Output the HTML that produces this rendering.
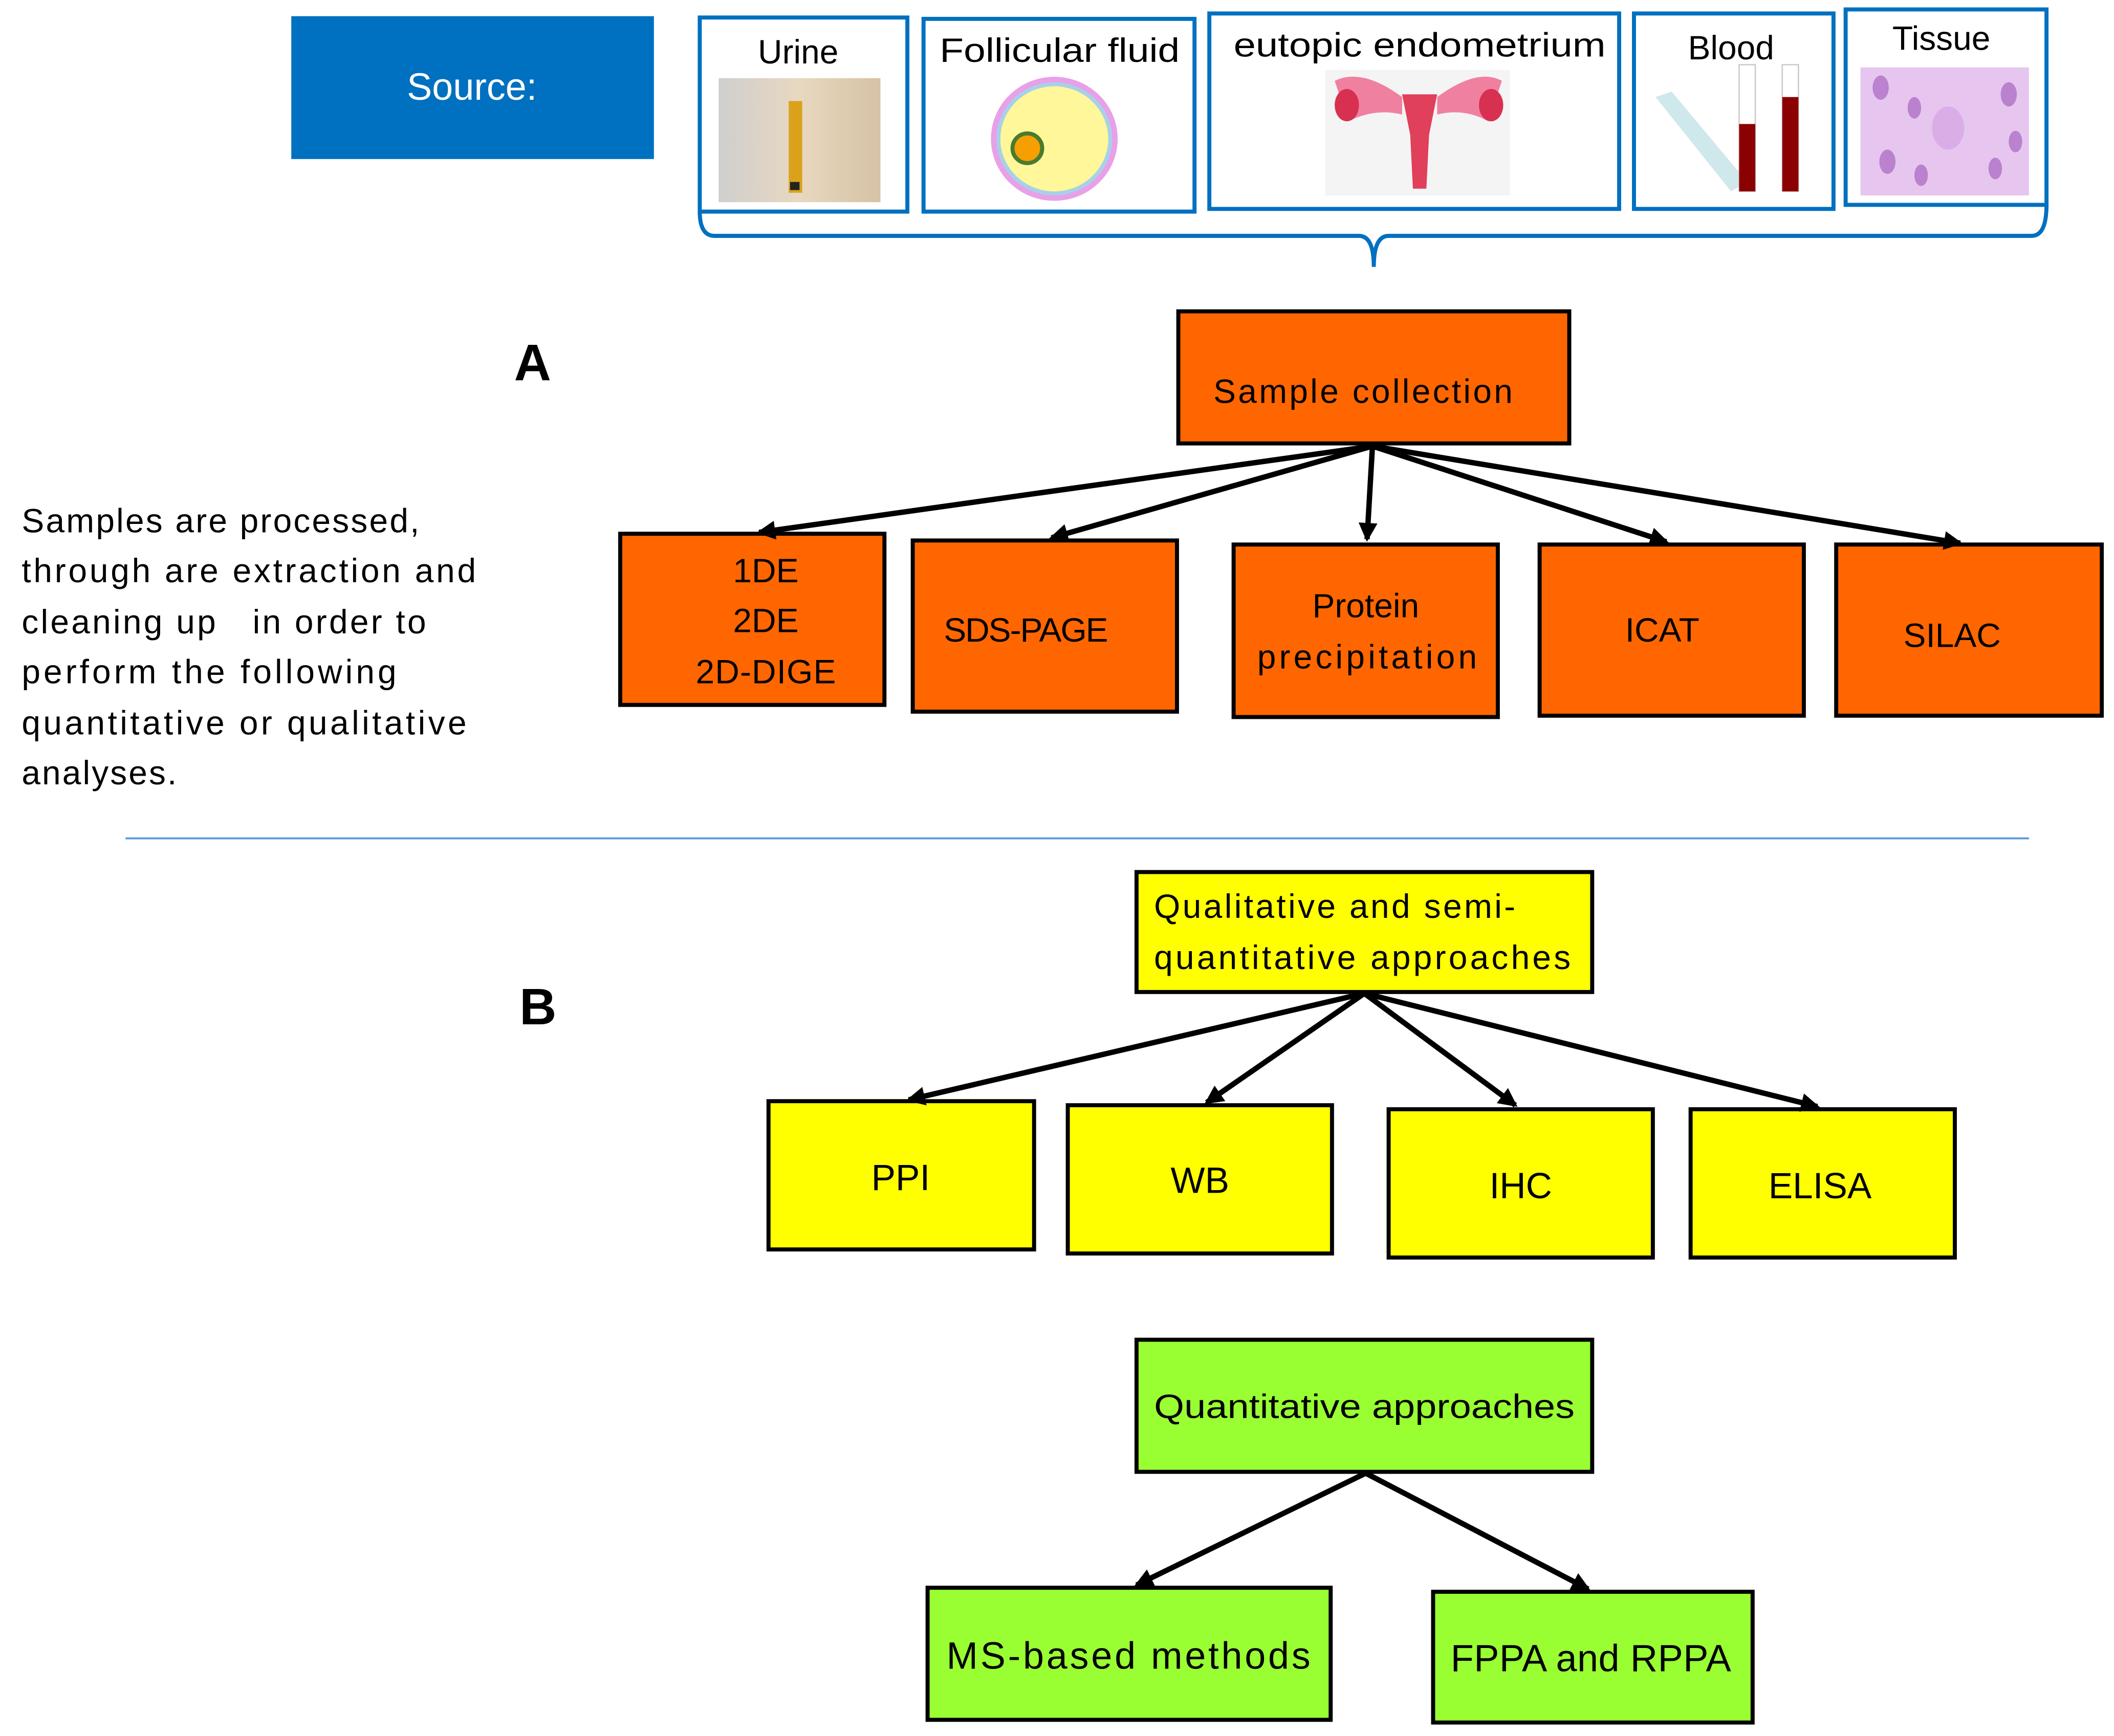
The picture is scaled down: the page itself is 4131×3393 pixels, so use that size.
<!DOCTYPE html>
<html><head><meta charset="utf-8"><style>
html,body{margin:0;padding:0;background:#fff;}
svg{display:block;}
text{font-family:"Liberation Sans",sans-serif;fill:#000;}
</style></head><body>
<svg width="4131" height="3393" viewBox="0 0 1568 1288" xmlns="http://www.w3.org/2000/svg">
<defs>
<marker id="ah" markerWidth="3.5" markerHeight="3.5" refX="3" refY="1.75" orient="auto" markerUnits="strokeWidth">
<path d="M0,0 L3.5,1.75 L0,3.5 z" fill="#000"/></marker>
<linearGradient id="ug" x1="0" x2="1"><stop offset="0" stop-color="#cfcfcf"/><stop offset="0.5" stop-color="#e8d8c0"/><stop offset="1" stop-color="#d6c2a5"/></linearGradient>
</defs>
<rect x="0" y="0" width="1568" height="1288" fill="#fff"/>
<rect x="216" y="12" width="269" height="106" fill="#0070C0"/>
<text x="350" y="74" font-size="28" text-anchor="middle" style="fill:#fff">Source:</text>
<g fill="#fff" stroke="#0070C0" stroke-width="3">
<rect x="519" y="13" width="154" height="144"/>
<rect x="685" y="14" width="201" height="143"/>
<rect x="897" y="10" width="304" height="145"/>
<rect x="1212" y="10" width="148" height="145"/>
<rect x="1369" y="7" width="149" height="145"/>
</g>
<g font-size="25" text-anchor="middle">
<text x="592" y="47">Urine</text>
<text x="786" y="46" textLength="178" lengthAdjust="spacingAndGlyphs">Follicular fluid</text>
<text x="1053" y="42" textLength="276" lengthAdjust="spacingAndGlyphs">eutopic endometrium</text>
<text x="1284" y="44">Blood</text>
<text x="1440" y="37">Tissue</text>
</g>
<rect x="533" y="58" width="120" height="92" fill="url(#ug)"/>
<rect x="585" y="75" width="10" height="68" fill="#d9a21a"/>
<rect x="586" y="135" width="7" height="6" fill="#222"/>
<ellipse cx="782" cy="103" rx="47" ry="46" fill="#e8a0e8"/>
<ellipse cx="782" cy="103" rx="43" ry="42" fill="#a8d0e8"/>
<ellipse cx="782" cy="103" rx="40" ry="39" fill="#fff799"/>
<circle cx="762" cy="110" r="11" fill="#f5a000" stroke="#4a7a30" stroke-width="3"/>
<rect x="983" y="52" width="137" height="93" fill="#f4f4f4"/>
<path d="M1040,70 L1066,70 L1060,100 L1058,140 L1048,140 L1046,100 Z" fill="#e0405a"/>
<path d="M1040,72 Q1010,50 990,60 L1000,90 Q1020,80 1040,85Z" fill="#f080a0"/>
<path d="M1066,72 Q1096,50 1114,60 L1104,90 Q1086,80 1066,85Z" fill="#f080a0"/>
<ellipse cx="999" cy="78" rx="9" ry="12" fill="#d83050"/>
<ellipse cx="1106" cy="78" rx="9" ry="12" fill="#d83050"/>
<path d="M1228,72 L1240,68 L1296,135 L1284,142 Z" fill="#cfe8ec"/>
<rect x="1290" y="48" width="12" height="94" fill="#fff" stroke="#ccc"/>
<rect x="1290" y="92" width="12" height="50" fill="#8b0000"/>
<rect x="1322" y="48" width="12" height="94" fill="#fff" stroke="#ccc"/>
<rect x="1322" y="72" width="12" height="70" fill="#8b0000"/>
<rect x="1380" y="50" width="125" height="95" fill="#e6c6ee"/>
<g fill="#b070c8" opacity="0.8">
<ellipse cx="1395" cy="65" rx="6" ry="9"/><ellipse cx="1420" cy="80" rx="5" ry="8"/><ellipse cx="1490" cy="70" rx="6" ry="9"/>
<ellipse cx="1400" cy="120" rx="6" ry="9"/><ellipse cx="1480" cy="125" rx="5" ry="8"/><ellipse cx="1445" cy="95" rx="12" ry="16" fill="#d9a8e6"/>
<ellipse cx="1425" cy="130" rx="5" ry="8"/><ellipse cx="1495" cy="105" rx="5" ry="8"/></g>
<path d="M519,157 Q519,175 530,175 L1008,175 Q1019,175 1019,198 Q1019,175 1030,175 L1507,175 Q1518,175 1518,152" fill="none" stroke="#0070C0" stroke-width="3"/>
<text x="395" y="282" font-size="38" font-weight="bold" text-anchor="middle">A</text>
<text x="399" y="760" font-size="38" font-weight="bold" text-anchor="middle">B</text>
<g font-size="25" lengthAdjust="spacingAndGlyphs">
<text x="16" y="395" textLength="295">Samples are processed,</text>
<text x="16" y="432" textLength="337">through are extraction and</text>
<text x="16" y="470" textLength="300">cleaning up &#160;&#160;in order to</text>
<text x="16" y="507" textLength="278">perform the following</text>
<text x="16" y="545" textLength="330">quantitative or qualitative</text>
<text x="16" y="582" textLength="115">analyses.</text>
</g>
<line x1="93" y1="622" x2="1505" y2="622" stroke="#5B9BD5" stroke-width="1.5"/>
<g fill="#FF6600" stroke="#000" stroke-width="3">
<rect x="874" y="231" width="290" height="98"/>
<rect x="460" y="396" width="196" height="127"/>
<rect x="677" y="401" width="196" height="127"/>
<rect x="915" y="404" width="196" height="128"/>
<rect x="1142" y="404" width="196" height="127"/>
<rect x="1362" y="404" width="197" height="127"/>
</g>
<g font-size="25" text-anchor="middle" lengthAdjust="spacingAndGlyphs">
<text x="1011" y="299" textLength="222">Sample collection</text>
<text x="568" y="432">1DE</text><text x="568" y="469">2DE</text><text x="568" y="507" textLength="104">2D-DIGE</text>
<text x="761" y="476" textLength="122">SDS-PAGE</text>
<text x="1013" y="458">Protein</text><text x="1014" y="496" textLength="163">precipitation</text>
<text x="1233" y="476">ICAT</text>
<text x="1448" y="480">SILAC</text>
</g>
<g stroke="#000" stroke-width="4" marker-end="url(#ah)">
<line x1="1018" y1="331" x2="563" y2="395"/>
<line x1="1018" y1="331" x2="780" y2="399"/>
<line x1="1018" y1="331" x2="1014" y2="400"/>
<line x1="1018" y1="331" x2="1236" y2="402"/>
<line x1="1018" y1="331" x2="1454" y2="403"/>
</g>
<g fill="#FFFF00" stroke="#000" stroke-width="3">
<rect x="843" y="647" width="338" height="89"/>
<rect x="570" y="817" width="197" height="110"/>
<rect x="792" y="820" width="196" height="110"/>
<rect x="1030" y="823" width="196" height="110"/>
<rect x="1254" y="823" width="196" height="110"/>
</g>
<g font-size="25" lengthAdjust="spacingAndGlyphs">
<text x="856" y="681" textLength="268">Qualitative and semi-</text>
<text x="856" y="719" textLength="309">quantitative approaches</text>
</g>
<g font-size="27" text-anchor="middle">
<text x="668" y="883">PPI</text><text x="890" y="885">WB</text><text x="1128" y="889">IHC</text><text x="1350" y="889">ELISA</text>
</g>
<g stroke="#000" stroke-width="4" marker-end="url(#ah)">
<line x1="1012" y1="737" x2="674" y2="816"/>
<line x1="1012" y1="737" x2="895" y2="818"/>
<line x1="1012" y1="737" x2="1124" y2="820"/>
<line x1="1012" y1="737" x2="1348" y2="821"/>
</g>
<g fill="#99FF33" stroke="#000" stroke-width="3">
<rect x="843" y="994" width="338" height="98"/>
<rect x="688" y="1178" width="299" height="98"/>
<rect x="1063" y="1181" width="237" height="97"/>
</g>
<text x="1012" y="1052" font-size="25" text-anchor="middle" textLength="312" lengthAdjust="spacingAndGlyphs">Quantitative approaches</text>
<g font-size="28" text-anchor="middle" lengthAdjust="spacingAndGlyphs">
<text x="837" y="1238" textLength="270">MS-based methods</text>
<text x="1180" y="1240" textLength="208">FPPA and RPPA</text>
</g>
<g stroke="#000" stroke-width="4" marker-end="url(#ah)">
<line x1="1013" y1="1093" x2="843" y2="1176"/>
<line x1="1013" y1="1093" x2="1178" y2="1179"/>
</g>
</svg>
</body></html>
